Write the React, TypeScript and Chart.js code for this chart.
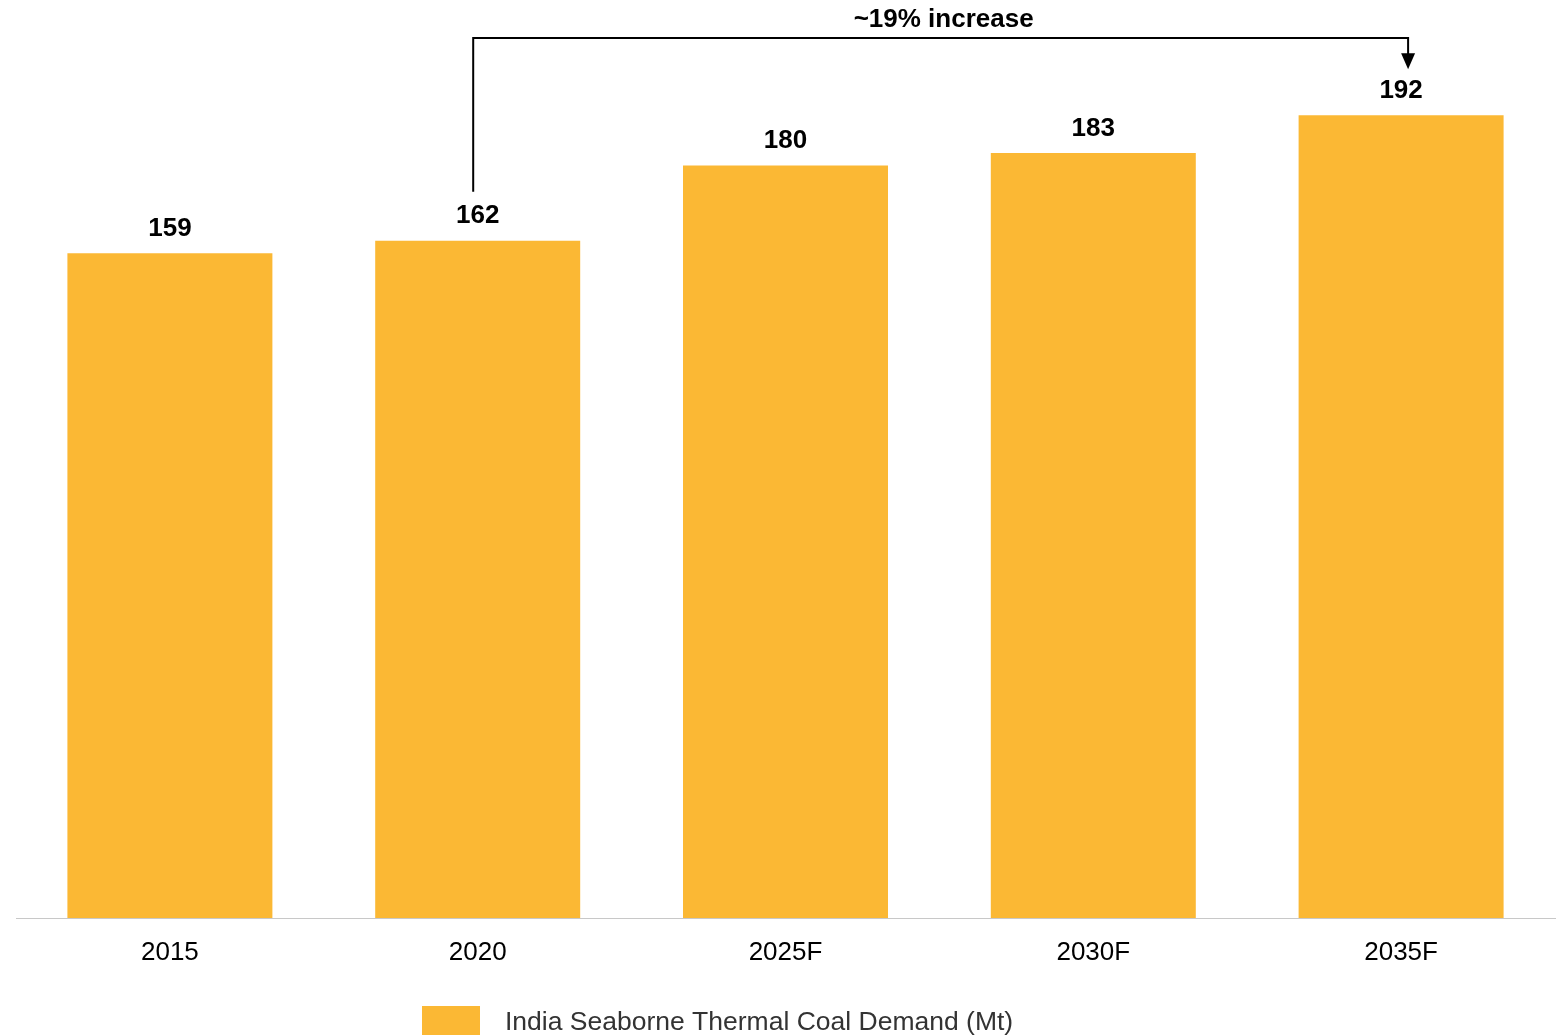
import React, { useEffect, useRef } from "react";
import { Chart, registerables } from "chart.js";

Chart.register(...registerables);

const categories = ["2015", "2020", "2025F", "2030F", "2035F"];
const demandValues = [159, 162, 180, 183, 192];
const seriesLabel = "India Seaborne Thermal Coal Demand (Mt)";
const annotationText = "~19% increase";
const annotationFrom = 1; // index of 2020
const annotationTo = 4; // index of 2035F

const BAR_COLOR = "#FBB834";
const FONT = "'Liberation Sans', Arial, Helvetica, sans-serif";

const overlayPlugin = {
  id: "overlay",
  afterDatasetsDraw(chart: any) {
    const ctx = chart.ctx;
    const meta = chart.getDatasetMeta(0);
    const area = chart.chartArea;
    ctx.save();
    // value labels
    ctx.fillStyle = "#000";
    ctx.font = `bold 26px ${FONT}`;
    ctx.textAlign = "center";
    ctx.textBaseline = "middle";
    meta.data.forEach((bar: any, i: number) => {
      ctx.fillText(String(demandValues[i]), bar.x, bar.y - 24.5);
    });

    // annotation bracket
    const a = meta.data[annotationFrom];
    const b = meta.data[annotationTo];
    const x1 = a.x - 4.5;
    const x2 = b.x + 7;
    const yTop = area.top - 2;
    const yStart = a.y - 49;
    const yTip = b.y - 46;
    ctx.strokeStyle = "#000";
    ctx.lineWidth = 2;
    ctx.beginPath();
    ctx.moveTo(x1, yStart);
    ctx.lineTo(x1, yTop);
    ctx.lineTo(x2, yTop);
    ctx.lineTo(x2, yTip - 14);
    ctx.stroke();
    ctx.fillStyle = "#000";
    ctx.beginPath();
    ctx.moveTo(x2 - 7, yTip - 16);
    ctx.lineTo(x2 + 7, yTip - 16);
    ctx.lineTo(x2, yTip);
    ctx.closePath();
    ctx.fill();
    ctx.font = `bold 26px ${FONT}`;
    ctx.textBaseline = "middle";
    ctx.fillText(annotationText, (x1 + x2) / 2 + 3, 19.5);

    // legend
    ctx.fillStyle = BAR_COLOR;
    ctx.fillRect(422, 1006, 58, 29);
    ctx.fillStyle = "#333";
    ctx.font = `26.5px ${FONT}`;
    ctx.textAlign = "left";
    ctx.textBaseline = "middle";
    ctx.fillText(seriesLabel, 505, 1023);
    ctx.restore();
  },
};

export default function App() {
  const ref = useRef<HTMLCanvasElement>(null);
  useEffect(() => {
    if (!ref.current) return;
    const chart = new Chart(ref.current, {
      type: "bar",
      data: {
        labels: categories,
        datasets: [
          {
            label: seriesLabel,
            data: demandValues,
            backgroundColor: BAR_COLOR,
            borderWidth: 0,
            barPercentage: 0.666,
            categoryPercentage: 1,
          },
        ],
      },
      options: {
        animation: false,
        responsive: true,
        maintainAspectRatio: false,
        layout: { padding: { top: 40, left: 16, right: 3, bottom: 0 } },
        plugins: {
          legend: { display: false },
          tooltip: { enabled: false },
        },
        scales: {
          x: {
            grid: { display: false, drawTicks: false },
            border: { display: true, color: "#c8c8c8", width: 1 },
            ticks: {
              color: "#000",
              font: { family: FONT, size: 26 },
              padding: 19,
            },
            afterFit(scale: any) {
              scale.height = 118;
            },
          },
          y: {
            display: false,
            min: 0,
            max: 210,
          },
        },
      },
      plugins: [overlayPlugin],
    });
    return () => chart.destroy();
  }, []);
  return (
    <div style={{ position: "absolute", left: 0, top: 0, width: 1558, height: 1036, background: "#fff" }}>
      <canvas ref={ref} />
    </div>
  );
}
